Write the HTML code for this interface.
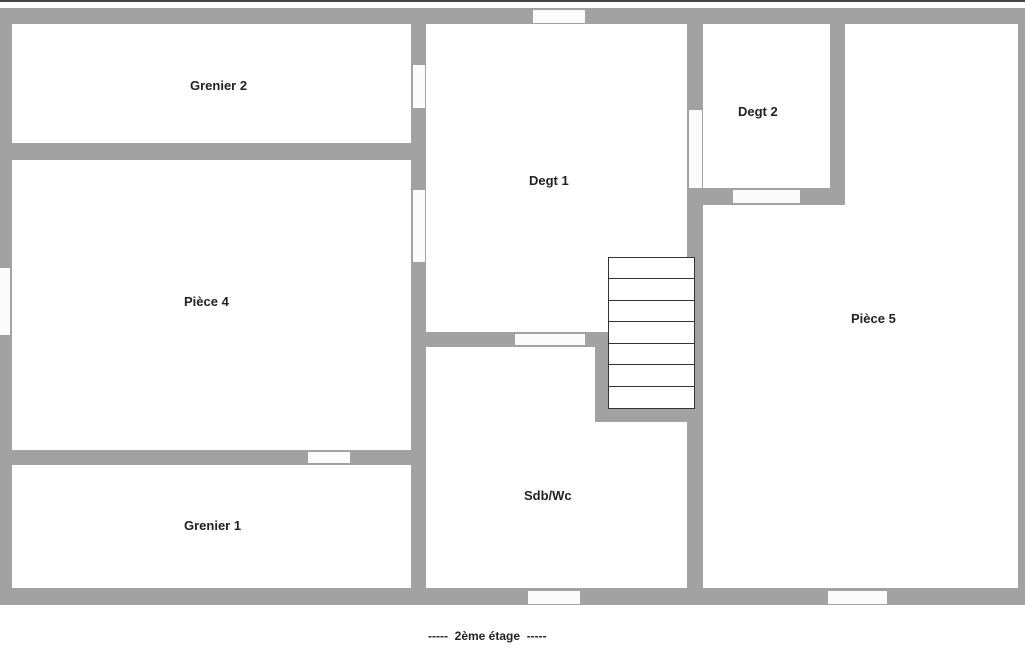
<!DOCTYPE html>
<html><head><meta charset="utf-8"><style>
body{margin:0;width:1025px;height:650px;background:#fff;position:relative;overflow:hidden;font-family:"Liberation Sans",sans-serif}
.w{position:absolute;background:#a2a2a2}
.d{position:absolute;background:#fbfbfb}
.t{position:absolute;font-size:13px;font-weight:bold;color:#222;white-space:nowrap}
.s{position:absolute;left:608px;width:86px;height:1px;background:#333}
</style></head><body>
<div style="position:absolute;left:0;top:0;width:1025px;height:2px;background:#444"></div>
<!-- outer walls -->
<div class="w" style="left:0;top:8px;width:1025px;height:16px"></div>
<div class="w" style="left:0;top:8px;width:12px;height:597px"></div>
<div class="w" style="left:0;top:588px;width:1025px;height:17px"></div>
<div class="w" style="left:1018px;top:8px;width:7px;height:597px"></div>
<!-- left interior -->
<div class="w" style="left:12px;top:143px;width:412px;height:17px"></div>
<div class="w" style="left:411px;top:24px;width:15px;height:566px"></div>
<div class="w" style="left:8px;top:450px;width:414px;height:15px"></div>
<!-- degt1 -->
<div class="w" style="left:420px;top:332px;width:190px;height:15px"></div>
<div class="w" style="left:595px;top:332px;width:15px;height:90px"></div>
<div class="w" style="left:595px;top:408px;width:105px;height:14px"></div>
<div class="w" style="left:687px;top:24px;width:16px;height:566px"></div>
<!-- degt2 -->
<div class="w" style="left:687px;top:188px;width:158px;height:17px"></div>
<div class="w" style="left:830px;top:24px;width:15px;height:181px"></div>
<!-- doors -->
<div class="d" style="left:413px;top:65px;width:12px;height:43px"></div>
<div class="d" style="left:413px;top:190px;width:12px;height:72px"></div>
<div class="d" style="left:0;top:268px;width:10px;height:67px"></div>
<div class="d" style="left:308px;top:452px;width:42px;height:11px"></div>
<div class="d" style="left:533px;top:10px;width:52px;height:13px"></div>
<div class="d" style="left:515px;top:334px;width:70px;height:11px"></div>
<div class="d" style="left:689px;top:110px;width:13px;height:78px"></div>
<div class="d" style="left:733px;top:190px;width:67px;height:13px"></div>
<div class="d" style="left:528px;top:591px;width:52px;height:13px"></div>
<div class="d" style="left:828px;top:591px;width:59px;height:13px"></div>
<!-- stairs -->
<div style="position:absolute;left:608px;top:257px;width:85px;height:150px;border:1px solid #333;background:#fff"></div>
<div class="s" style="top:278px"></div><div class="s" style="top:300px"></div><div class="s" style="top:321px"></div><div class="s" style="top:343px"></div><div class="s" style="top:364px"></div><div class="s" style="top:386px"></div>
<!-- labels -->
<div class="t" style="left:190px;top:78px">Grenier 2</div>
<div class="t" style="left:184px;top:294px">Pièce 4</div>
<div class="t" style="left:184px;top:518px">Grenier 1</div>
<div class="t" style="left:529px;top:173px">Degt 1</div>
<div class="t" style="left:738px;top:104px">Degt 2</div>
<div class="t" style="left:851px;top:311px">Pièce 5</div>
<div class="t" style="left:524px;top:488px">Sdb/Wc</div>
<div class="t" style="left:428px;top:629px;font-size:12px">----- &nbsp;2ème étage &nbsp;-----</div>
</body></html>
